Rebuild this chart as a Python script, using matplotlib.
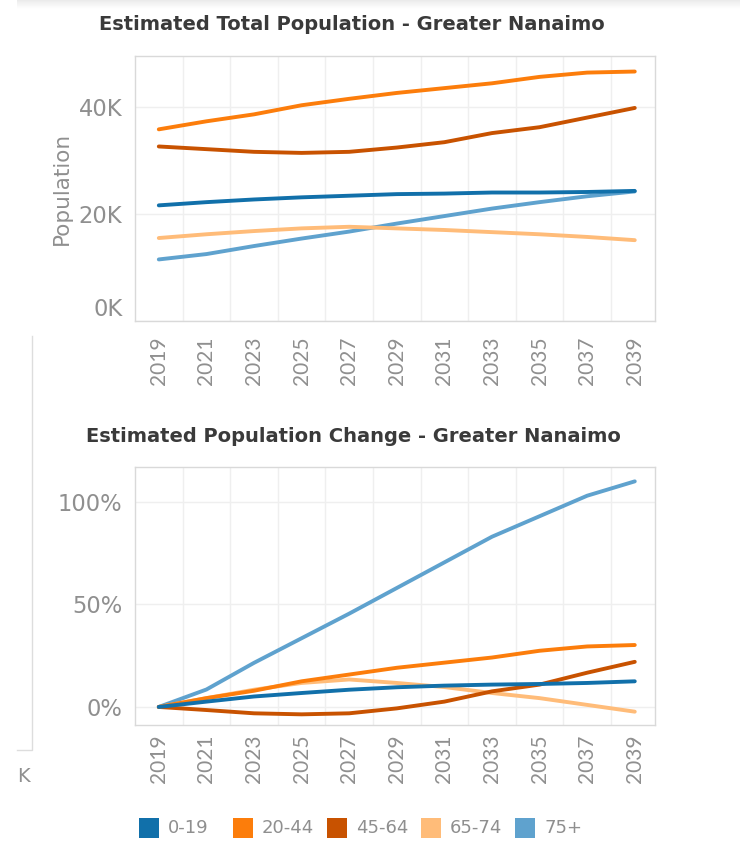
"""Greater Nanaimo population projections by age group (total and % change)."""

import matplotlib

matplotlib.use("Agg")
import matplotlib.pyplot as plt
import numpy as np
from matplotlib.patches import Rectangle

years = [2019, 2021, 2023, 2025, 2027, 2029, 2031, 2033, 2035, 2037, 2039]
groups = ["0-19", "20-44", "45-64", "65-74", "75+"]
colors = ["#1170aa", "#fc7d0b", "#c85200", "#ffbc79", "#5fa2ce"]

# estimated total population (persons)
pop_0_19 = [21600, 22200, 22700, 23100, 23400, 23700, 23800, 24000, 24000, 24100, 24300]
pop_20_44 = [35800, 37300, 38600, 40300, 41500, 42600, 43500, 44400, 45600, 46400, 46600]
pop_45_64 = [32600, 32100, 31600, 31400, 31600, 32400, 33400, 35100, 36200, 38000, 39800]
pop_65_74 = [15500, 16200, 16800, 17300, 17600, 17300, 17000, 16600, 16200, 15700, 15100]
pop_75 = [11500, 12500, 14000, 15400, 16700, 18200, 19600, 21000, 22200, 23300, 24200]

# estimated change since 2019 (%)
chg_0_19 = [0, 2.6, 5.1, 6.8, 8.4, 9.6, 10.4, 10.9, 11.2, 11.7, 12.5]
chg_20_44 = [0, 4.3, 7.9, 12.5, 15.8, 19.1, 21.6, 24.1, 27.4, 29.5, 30.2]
chg_45_64 = [0, -1.5, -3.1, -3.6, -3.1, -0.7, 2.6, 7.6, 10.9, 16.7, 22.0]
chg_65_74 = [0, 4.3, 8.4, 11.7, 13.4, 11.7, 9.7, 6.8, 4.3, 1.0, -2.3]
chg_75 = [0, 8.5, 21.5, 33.5, 45.5, 58.0, 70.5, 83.0, 93.0, 103.0, 110.0]

pop_series = [pop_0_19, pop_20_44, pop_45_64, pop_65_74, pop_75]
chg_series = [chg_0_19, chg_20_44, chg_45_64, chg_65_74, chg_75]

ROT_FONT = ["Lato", "DejaVu Sans"]      # rotated year labels
FLAT_FONT = ["DejaVu Sans"]            # horizontal text (screenshot is stretched sideways)
TICK_GRAY = "#8f8f8f"
TITLE_GRAY = "#3a3a3a"
plt.rcParams["font.family"] = ROT_FONT

W, H = 740, 843
fig = plt.figure(figsize=(W / 100, H / 100), dpi=100)


def _box(x0, y0, x1, y1):
    """Pixel box (top-left origin) -> figure fraction rect."""
    return [x0 / W, 1 - y1 / H, (x1 - x0) / W, (y1 - y0) / H]


def _style(ax, xpad):
    ax.set_xlim(2018.0, 2039.85)
    ax.set_xticks(years)
    ax.set_xticklabels([str(y) for y in years], rotation=90)
    ax.set_xticks(range(2020, 2039, 2), minor=True)
    ax.grid(True, which="minor", axis="x", color="#efefef", linewidth=1.0)
    ax.grid(True, which="major", axis="y", color="#efefef", linewidth=1.0)
    ax.tick_params(axis="both", which="both", length=0, labelcolor=TICK_GRAY)
    ax.tick_params(axis="x", pad=xpad, labelsize=15)
    ax.tick_params(axis="y", pad=9)
    for lab in ax.get_yticklabels():
        lab.set_fontfamily(FLAT_FONT)
        lab.set_fontsize(16.3)
    for s in ax.spines.values():
        s.set_color("#d9d9d9")
        s.set_linewidth(1.0)
    ax.set_axisbelow(True)


def _title(xc, yc, text):
    fig.text(xc / W, 1 - yc / H, text, ha="center", va="center", fontsize=14,
             fontweight="bold", color=TITLE_GRAY, family=FLAT_FONT)


LW = 2.8

# --- top: total population ---
ax1 = fig.add_axes(_box(135, 56, 655, 321))
for series, c in reversed(list(zip(pop_series, colors))):
    ax1.plot(years, series, color=c, lw=LW, solid_capstyle="round", solid_joinstyle="round")
ax1.set_ylim(0, 49500)
ax1.set_yticks([0, 20000, 40000])
ax1.set_yticklabels(["0K", "20K", "40K"])
_style(ax1, xpad=11)
ax1.yaxis.get_ticklabels()[0].set_va("bottom")
ax1.set_ylabel("Population", color=TICK_GRAY, fontsize=15.5, labelpad=5, family=FLAT_FONT)
_title(352, 25, "Estimated Total Population - Greater Nanaimo")

# --- bottom: % change since 2019 ---
ax2 = fig.add_axes(_box(135, 467, 655, 725))
for series, c in reversed(list(zip(chg_series, colors))):
    ax2.plot(years, series, color=c, lw=LW, solid_capstyle="round", solid_joinstyle="round")
ax2.set_ylim(-8.8, 117)
ax2.set_yticks([0, 50, 100])
ax2.set_yticklabels(["0%", "50%", "100%"])
_style(ax2, xpad=7)
_title(353, 437, "Estimated Population Change - Greater Nanaimo")

# --- shared legend: fixed-width columns like the Tableau colour legend ---
for i, (g, c) in enumerate(zip(groups, colors)):
    x0 = 139 + i * 94
    fig.patches.append(Rectangle((x0 / W, 1 - 838 / H), 20 / W, 20 / H,
                                 transform=fig.transFigure, facecolor=c, edgecolor="none"))
    fig.text((x0 + 29) / W, 1 - 828 / H, g, ha="left", va="center", fontsize=13,
             color=TICK_GRAY, family=FLAT_FONT)

# screenshot leftovers: soft page shadow on top, neighbouring panel edge on the left
shadow = fig.add_axes(_box(17, 0, W, 9))
shadow.imshow(np.linspace(0.16, 0.0, 18).reshape(-1, 1), aspect="auto", cmap="Greys",
              vmin=0, vmax=1, interpolation="bilinear")
shadow.axis("off")
fig.lines.append(plt.Line2D([32 / W, 32 / W, 17 / W], [1 - 336 / H, 1 - 750 / H, 1 - 750 / H],
                            transform=fig.transFigure, color="#dddddd", lw=1.0))
fig.text(17 / W, 1 - 776 / H, "K", ha="left", va="center", fontsize=14, color=TICK_GRAY,
         family=FLAT_FONT)

fig.savefig("out.png", dpi=100)
plt.close(fig)
